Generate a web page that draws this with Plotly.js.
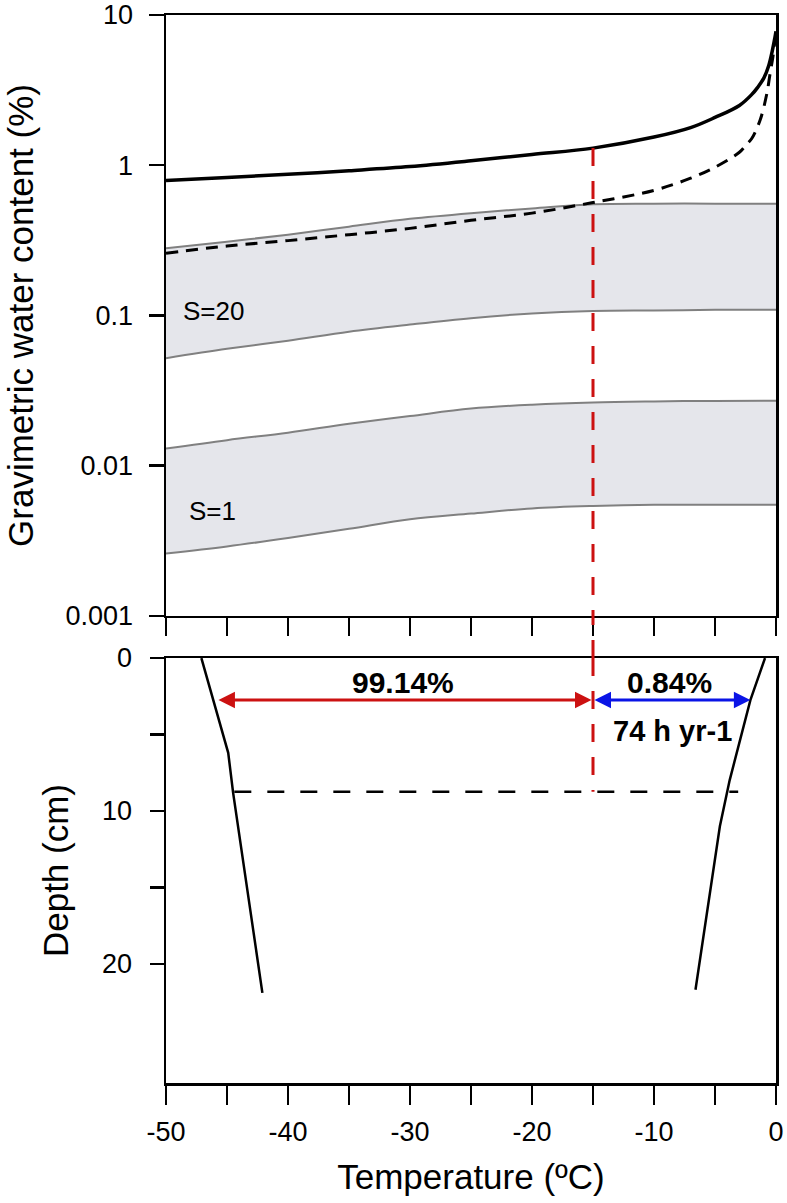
<!DOCTYPE html>
<html>
<head>
<meta charset="utf-8">
<script src="https://cdn.plot.ly/plotly-3.0.1.min.js"></script>
<style>body{margin:0;background:#fff;}</style>
</head>
<body>
<div id="chart" style="width:787px;height:1203px;"></div>
<script>
// top panel: water content vs temperature (degC)
const bandTemp = [-50, -45, -40, -35, -30, -25, -20, -15, -10, -5, 0];
const s20Upper = [0.28, 0.31, 0.345, 0.39, 0.44, 0.48, 0.515, 0.55, 0.555, 0.555, 0.555];
const s20Lower = [0.052, 0.06, 0.068, 0.078, 0.087, 0.096, 0.103, 0.107, 0.108, 0.109, 0.109];
const s1Upper = [0.013, 0.0148, 0.0166, 0.019, 0.0214, 0.024, 0.0255, 0.0264, 0.0268, 0.027, 0.0271];
const s1Lower = [0.0026, 0.0029, 0.0033, 0.0038, 0.0044, 0.0048, 0.0052, 0.0054, 0.0055, 0.0055, 0.0055];

const solidTemp = [-50, -45, -40, -35, -30, -25, -20, -15, -10, -7, -5, -3, -2, -1.5, -1, -0.6, -0.3, -0.1, 0];
const totalWater = [0.79, 0.83, 0.87, 0.92, 0.98, 1.07, 1.18, 1.3, 1.54, 1.78, 2.08, 2.5, 2.95, 3.3, 3.8, 4.6, 5.8, 7.0, 7.8];
const dashedTemp = [-50, -45, -40, -35, -30, -25, -20, -15, -10, -7, -5, -3, -2.4, -2, -1.3, -0.75, -0.5, -0.25, -0.1, 0];
const dashedWater = [0.26, 0.29, 0.315, 0.345, 0.38, 0.43, 0.48, 0.565, 0.68, 0.82, 0.97, 1.22, 1.38, 1.5, 2.0, 3.0, 4.0, 5.3, 6.6, 7.4];

// bottom panel: temperature envelope with depth (cm)
const coldTemp = [-47.1, -44.9, -44.5, -42.1];
const coldDepth = [0, 6.2, 8.8, 21.9];
const warmTemp = [-0.9, -2.1, -3.8, -4.6, -6.6];
const warmDepth = [0, 2.75, 8, 11, 21.7];

const thresholdTemp = -15;
const thresholdWater = 1.3;
const thresholdDepth = 8.75;
const dashedDepthTemp = [-44.4, -3.1];
const arrowDepth = 2.75;
const coldArrowTemp = -45.7;
const warmArrowTemp = -2.1;

const xTicks = [-50, -45, -40, -35, -30, -25, -20, -15, -10, -5, 0];
const xTickText = ['-50', '', '-40', '', '-30', '', '-20', '', '-10', '', '0'];
const waterTicks = [0.001, 0.01, 0.1, 1, 10];
const waterTickText = ['0.001', '0.01', '0.1', '1', '10'];
const depthTicks = [0, 5, 10, 15, 20];
const depthTickText = ['0', '', '10', '', '20'];

const FONT = 'Liberation Sans, Arial, Helvetica, sans-serif';
const RED = '#cc1111';
const BLUE = '#0a14e6';
const BAND_FILL = '#e5e6eb';
const BAND_LINE = '#808080';
const TOP_DOMAIN = [0.4373, 1];
const BOTTOM_DOMAIN = [0, 0.3979];
const redDash = '18px,15px';

const bandLine = { color: BAND_LINE, width: 2, shape: 'spline' };

const traces = [
    { x: bandTemp, y: s20Lower, xaxis: 'x', yaxis: 'y', mode: 'lines', line: bandLine },
    { x: bandTemp, y: s20Upper, xaxis: 'x', yaxis: 'y', mode: 'lines', line: bandLine, fill: 'tonexty', fillcolor: BAND_FILL },
    { x: bandTemp, y: s1Lower, xaxis: 'x', yaxis: 'y', mode: 'lines', line: bandLine },
    { x: bandTemp, y: s1Upper, xaxis: 'x', yaxis: 'y', mode: 'lines', line: bandLine, fill: 'tonexty', fillcolor: BAND_FILL },
    { x: dashedTemp, y: dashedWater, xaxis: 'x', yaxis: 'y', mode: 'lines', line: { color: '#000', width: 3, dash: '12px,8px', shape: 'spline' } },
    { x: solidTemp, y: totalWater, xaxis: 'x', yaxis: 'y', mode: 'lines', line: { color: '#000', width: 3.5, shape: 'spline' } },
    { x: [thresholdTemp, thresholdTemp], y: [thresholdWater, waterTicks[0]], xaxis: 'x', yaxis: 'y', mode: 'lines', line: { color: RED, width: 3, dash: redDash } },
    // bottom panel
    { x: coldTemp, y: coldDepth, xaxis: 'x2', yaxis: 'y2', mode: 'lines', line: { color: '#000', width: 2.5 } },
    { x: warmTemp, y: warmDepth, xaxis: 'x2', yaxis: 'y2', mode: 'lines', line: { color: '#000', width: 2.5 } },
    { x: dashedDepthTemp, y: [thresholdDepth, thresholdDepth], xaxis: 'x2', yaxis: 'y2', mode: 'lines', line: { color: '#000', width: 2.5, dash: '17px,16px' } },
    { x: [thresholdTemp, thresholdTemp], y: [0, thresholdDepth], xaxis: 'x2', yaxis: 'y2', mode: 'lines', line: { color: RED, width: 3, dash: redDash } }
];

const axisBase = {
    showline: true, linewidth: 2.5, linecolor: '#000', mirror: true,
    showgrid: false, zeroline: false, ticks: 'outside', tickwidth: 2.5, tickcolor: '#000',
    tickfont: { family: FONT, size: 27, color: '#000' }
};

const layout = {
    width: 787,
    height: 1203,
    margin: { l: 166, r: 11, t: 15, b: 120 },
    paper_bgcolor: '#fff',
    plot_bgcolor: '#fff',
    showlegend: false,
    font: { family: FONT, color: '#000' },
    xaxis: Object.assign({}, axisBase, {
        domain: [0, 1], anchor: 'y', range: [-50, 0],
        tickmode: 'array', tickvals: xTicks, ticktext: xTicks.map(() => ''), ticklen: 18
    }),
    yaxis: Object.assign({}, axisBase, {
        domain: TOP_DOMAIN, anchor: 'x', type: 'log', range: [-3, 1],
        tickmode: 'array', tickvals: waterTicks, ticktext: waterTickText, ticklen: 15, ticklabelstandoff: 10,
        title: { text: 'Gravimetric water content (%)', font: { family: FONT, size: 35 }, standoff: 22 }
    }),
    xaxis2: Object.assign({}, axisBase, {
        domain: [0, 1], anchor: 'y2', range: [-50, 0],
        tickmode: 'array', tickvals: xTicks, ticktext: xTickText, ticklen: 19, ticklabelstandoff: 4,
        title: { text: 'Temperature (\u00baC)', font: { family: FONT, size: 35 }, standoff: 19 }
    }),
    yaxis2: Object.assign({}, axisBase, {
        domain: BOTTOM_DOMAIN, anchor: 'x2', range: [27.8, 0],
        tickmode: 'array', tickvals: depthTicks, ticktext: depthTickText, ticklen: 14, ticklabelstandoff: 12,
        title: { text: 'Depth (cm)', font: { family: FONT, size: 35 }, standoff: 23 }
    }),
    shapes: [
        // red threshold line crossing the gap between panels
        { type: 'line', xref: 'x', yref: 'paper', x0: thresholdTemp, x1: thresholdTemp,
          y0: BOTTOM_DOMAIN[1], y1: TOP_DOMAIN[0], line: { color: RED, width: 3, dash: redDash } }
    ],
    annotations: [
        { xref: 'x', yref: 'y', x: -46.1, y: -0.97, text: 'S=20', showarrow: false,
          font: { family: FONT, size: 26 } },
        { xref: 'x', yref: 'y', x: -46.2, y: -2.3, text: 'S=1', showarrow: false,
          font: { family: FONT, size: 26 } },
        { xref: 'x2', yref: 'y2', x: coldArrowTemp, y: arrowDepth, axref: 'x2', ayref: 'y2',
          ax: thresholdTemp, ay: arrowDepth, text: '', showarrow: true, arrowside: 'end+start',
          arrowhead: 2, startarrowhead: 2, arrowsize: 1.1, startarrowsize: 1.1, arrowwidth: 3, arrowcolor: RED,
          standoff: 0, startstandoff: 0 },
        { xref: 'x2', yref: 'y2', x: warmArrowTemp, y: arrowDepth, axref: 'x2', ayref: 'y2',
          ax: thresholdTemp, ay: arrowDepth, text: '', showarrow: true, arrowside: 'end+start',
          arrowhead: 2, startarrowhead: 2, arrowsize: 1.1, startarrowsize: 1.1, arrowwidth: 3, arrowcolor: BLUE,
          standoff: 0, startstandoff: 0 },
        { xref: 'x2', yref: 'y2', x: -30.6, y: 1.6, text: '<b>99.14%</b>', showarrow: false,
          font: { family: FONT, size: 30 } },
        { xref: 'x2', yref: 'y2', x: -8.7, y: 1.6, text: '<b>0.84%</b>', showarrow: false,
          font: { family: FONT, size: 30 } },
        { xref: 'x2', yref: 'y2', x: -8.45, y: 4.8, text: '<b>74 h yr-1</b>', showarrow: false,
          font: { family: FONT, size: 29 } }
    ]
};

Plotly.newPlot('chart', traces, layout, { displayModeBar: false, staticPlot: true });
</script>
</body>
</html>
